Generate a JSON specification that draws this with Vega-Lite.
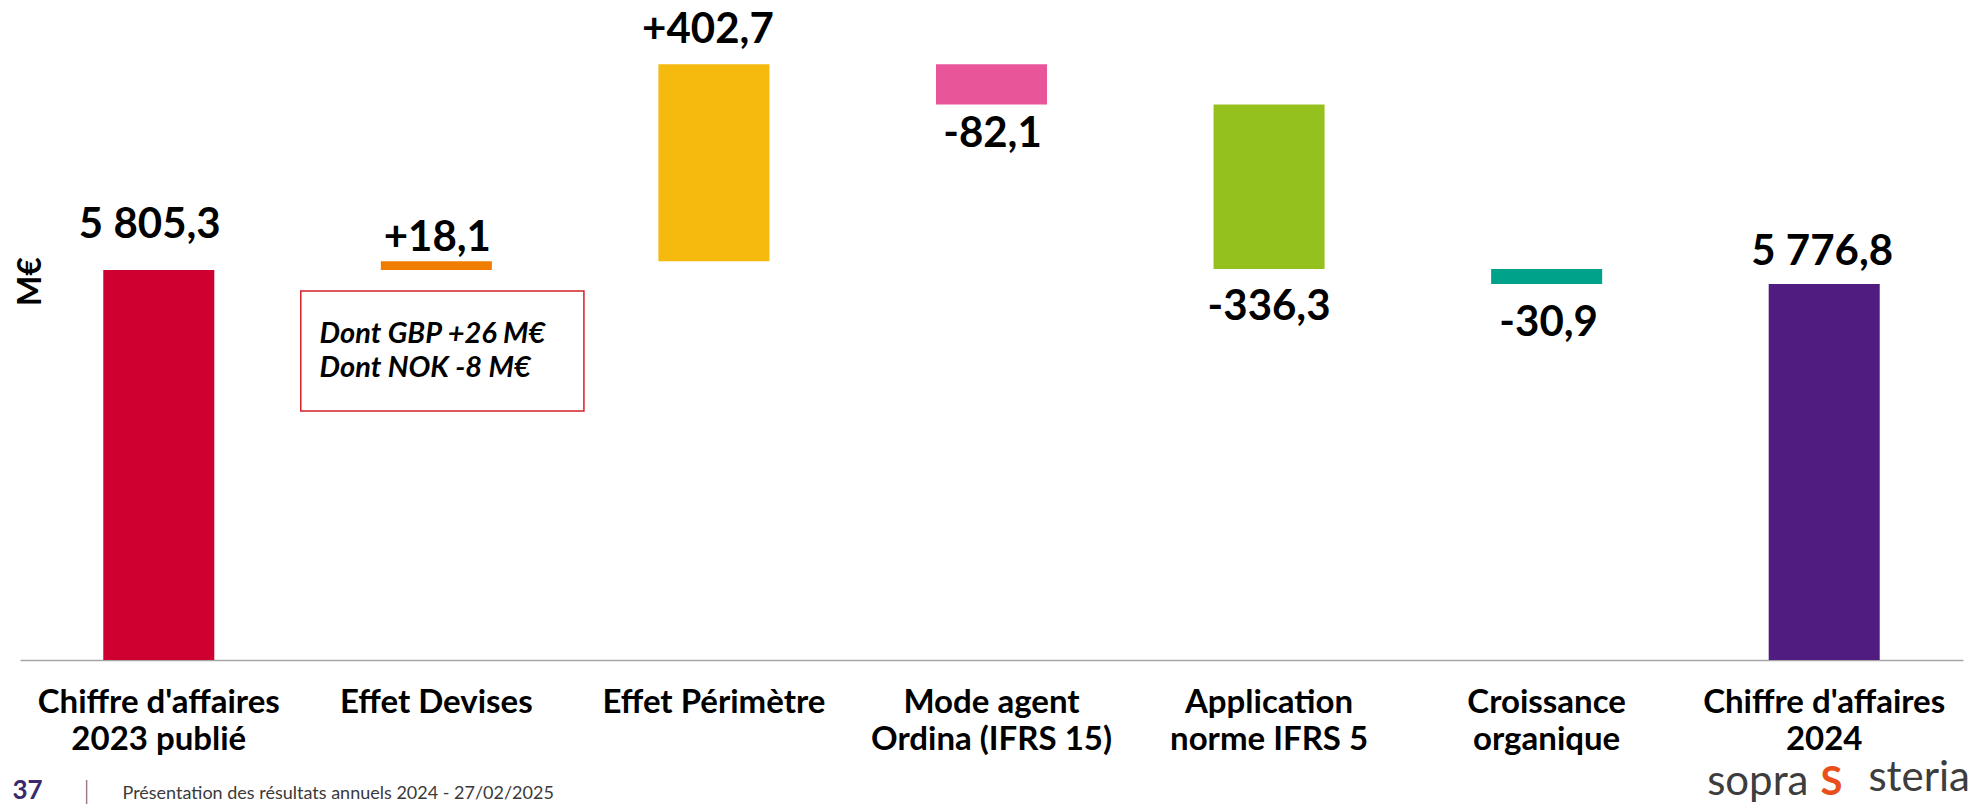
{
  "$schema": "https://vega.github.io/schema/vega-lite/v6.json",
  "width": 1943,
  "height": 660,
  "autosize": {"type": "none"},
  "padding": {"left": 20, "right": 12, "top": 0, "bottom": 144},
  "background": "white",
  "config": {"view": {"stroke": null}, "font": "Lato", "axis": {"grid": false}},
  "title": {
    "text": "steria",
    "orient": "bottom",
    "anchor": "end",
    "frame": "group",
    "font": "Lato",
    "fontSize": 42,
    "fontWeight": "normal",
    "color": "#3d3d3d",
    "baseline": "alphabetic",
    "offset": 0,
    "dx": 7,
    "dy": -12
  },
  "datasets": {
    "main": [
      {"cat": "Chiffre d'affaires\n2023 publié", "start": 0, "end": 5805.3, "label": "5 805,3"},
      {"cat": "Effet Devises", "start": 5805.3, "end": 5823.4, "label": "+18,1"},
      {"cat": "Effet Périmètre", "start": 5823.4, "end": 6226.1, "label": "+402,7"},
      {"cat": "Mode agent\nOrdina (IFRS 15)", "start": 6226.1, "end": 6144.0, "label": "-82,1"},
      {"cat": "Application\nnorme IFRS 5", "start": 6144.0, "end": 5807.7, "label": "-336,3"},
      {"cat": "Croissance\norganique", "start": 5807.7, "end": 5776.8, "label": "-30,9"},
      {"cat": "Chiffre d'affaires\n2024", "start": 0, "end": 5776.8, "label": "5 776,8"}
    ],
    "note_box": [
      {"cat": "Effet Devises", "top": 5762.6, "bottom": 5517.2}
    ],
    "note_text": [
      {"cat": "Effet Devises", "line": "Dont GBP +26 M€", "y": 5656.3},
      {"cat": "Effet Devises", "line": "Dont NOK -8 M€", "y": 5586.7}
    ]
  },
  "resolve": {"scale": {"x": "independent", "y": "independent"}},
  "layer": [
    {
      "data": {"name": "main"},
      "encoding": {
        "x": {
          "field": "cat",
          "type": "nominal",
          "sort": null,
          "scale": {
            "type": "band",
            "domain": ["Chiffre d'affaires\n2023 publié", "Effet Devises", "Effet Périmètre", "Mode agent\nOrdina (IFRS 15)", "Application\nnorme IFRS 5", "Croissance\norganique", "Chiffre d'affaires\n2024"],
            "paddingInner": 0,
            "paddingOuter": 0
          },
          "axis": {
            "orient": "bottom",
            "domain": true,
            "domainColor": "#a6a6a6",
            "domainWidth": 1.5,
            "ticks": false,
            "tickSize": 0,
            "labelAngle": 0,
            "labelExpr": "split(datum.label, '\\n')",
            "labelFont": "Lato",
            "labelFontSize": 33,
            "labelFontWeight": "bold",
            "labelColor": "#000000",
            "labelPadding": 26,
            "labelLineHeight": 37,
            "labelBaseline": "top",
            "labelLimit": 0,
            "labelOverlap": false,
            "labelBound": false,
            "title": "Présentation des résultats annuels 2024 - 27/02/2025",
            "titleX": 102,
            "titleY": 138,
            "titleAlign": "left",
            "titleAnchor": "start",
            "titleBaseline": "alphabetic",
            "titleFont": "Lato",
            "titleFontSize": 18,
            "titleFontWeight": "normal",
            "titleColor": "#3a3a3a"
          }
        }
      },
      "layer": [
        {
          "mark": {"type": "bar", "width": {"band": 0.4}, "clip": true},
          "encoding": {
            "y": {
              "field": "start",
              "type": "quantitative",
              "scale": {"domain": [5008, 6357.7], "nice": false, "zero": false},
              "axis": {
                "orient": "left",
                "domain": false,
                "ticks": false,
                "labels": false,
                "grid": false,
                "title": "M€",
                "titleAngle": -90,
                "titleX": 20,
                "titleY": 281,
                "titleAlign": "center",
                "titleBaseline": "alphabetic",
                "titleFont": "Lato",
                "titleFontSize": 32,
                "titleFontWeight": "bold",
                "titleColor": "#000000"
              }
            },
            "y2": {"field": "end"},
            "color": {
              "field": "cat",
              "type": "nominal",
              "scale": {
                "domain": ["Chiffre d'affaires\n2023 publié", "Effet Devises", "Effet Périmètre", "Mode agent\nOrdina (IFRS 15)", "Application\nnorme IFRS 5", "Croissance\norganique", "Chiffre d'affaires\n2024"],
                "range": ["#CF0030", "#EF7D00", "#F6B90E", "#E85598", "#95C11F", "#00A289", "#511C80"]
              },
              "legend": null
            }
          }
        },
        {
          "transform": [{"filter": "datum.label == '5 805,3'"}],
          "mark": {"type": "text", "baseline": "alphabetic", "dx": -9, "dy": -32, "fontSize": 42, "fontWeight": "bold", "color": "#000000"},
          "encoding": {"y": {"field": "end", "type": "quantitative"}, "text": {"field": "label"}}
        },
        {
          "transform": [{"filter": "datum.label == '+18,1'"}],
          "mark": {"type": "text", "baseline": "alphabetic", "dx": 1, "dy": -10, "fontSize": 42, "fontWeight": "bold", "color": "#000000"},
          "encoding": {"y": {"field": "end", "type": "quantitative"}, "text": {"field": "label"}}
        },
        {
          "transform": [{"filter": "datum.label == '+402,7'"}],
          "mark": {"type": "text", "baseline": "alphabetic", "dx": -6, "dy": -21, "fontSize": 42, "fontWeight": "bold", "color": "#000000"},
          "encoding": {"y": {"field": "end", "type": "quantitative"}, "text": {"field": "label"}}
        },
        {
          "transform": [{"filter": "datum.label == '-82,1'"}],
          "mark": {"type": "text", "baseline": "alphabetic", "dx": 1, "dy": 43, "fontSize": 42, "fontWeight": "bold", "color": "#000000"},
          "encoding": {"y": {"field": "end", "type": "quantitative"}, "text": {"field": "label"}}
        },
        {
          "transform": [{"filter": "datum.label == '-336,3'"}],
          "mark": {"type": "text", "baseline": "alphabetic", "dx": 0, "dy": 51, "fontSize": 42, "fontWeight": "bold", "color": "#000000"},
          "encoding": {"y": {"field": "end", "type": "quantitative"}, "text": {"field": "label"}}
        },
        {
          "transform": [{"filter": "datum.label == '-30,9'"}],
          "mark": {"type": "text", "baseline": "alphabetic", "dx": 2, "dy": 52, "fontSize": 42, "fontWeight": "bold", "color": "#000000"},
          "encoding": {"y": {"field": "end", "type": "quantitative"}, "text": {"field": "label"}}
        },
        {
          "transform": [{"filter": "datum.label == '5 776,8'"}],
          "mark": {"type": "text", "baseline": "alphabetic", "dx": -2, "dy": -19, "fontSize": 42, "fontWeight": "bold", "color": "#000000"},
          "encoding": {"y": {"field": "end", "type": "quantitative"}, "text": {"field": "label"}}
        }
      ]
    },
    {
      "data": {"name": "note_box"},
      "mark": {"type": "bar", "width": {"band": 1.02}, "fill": "#ffffff", "stroke": "#D42027", "strokeWidth": 1.5},
      "encoding": {
        "x": {
          "field": "cat",
          "type": "nominal",
          "sort": null,
          "scale": {
            "type": "band",
            "domain": ["Chiffre d'affaires\n2023 publié", "Effet Devises", "Effet Périmètre", "Mode agent\nOrdina (IFRS 15)", "Application\nnorme IFRS 5", "Croissance\norganique", "Chiffre d'affaires\n2024"],
            "paddingInner": 0,
            "paddingOuter": 0
          },
          "axis": {
            "orient": "bottom",
            "domain": false,
            "ticks": false,
            "labels": false,
            "grid": false,
            "title": "37",
            "titleX": -8,
            "titleY": 138,
            "titleAlign": "left",
            "titleAnchor": "start",
            "titleBaseline": "alphabetic",
            "titleFont": "Lato",
            "titleFontSize": 26,
            "titleFontWeight": "bold",
            "titleColor": "#3B2A6B"
          }
        },
        "xOffset": {"value": 6},
        "y": {
          "field": "top",
          "type": "quantitative",
          "scale": {"domain": [5008, 6357.7], "nice": false, "zero": false},
          "axis": {
            "orient": "right",
            "domain": false,
            "ticks": false,
            "labels": false,
            "grid": false,
            "title": "S",
            "titleAngle": 0,
            "titleX": -132,
            "titleY": 794,
            "titleAlign": "center",
            "titleBaseline": "alphabetic",
            "titleFont": "Lato",
            "titleFontSize": 40,
            "titleFontWeight": "bold",
            "titleColor": "#E94E1B"
          }
        },
        "y2": {"field": "bottom"}
      }
    },
    {
      "data": {"name": "note_text"},
      "mark": {"type": "text", "align": "left", "baseline": "alphabetic", "dx": 22, "fontSize": 29, "fontStyle": "italic", "fontWeight": "bold", "color": "#000000"},
      "encoding": {
        "x": {
          "field": "cat",
          "type": "nominal",
          "sort": null,
          "bandPosition": 0,
          "scale": {
            "type": "band",
            "domain": ["Chiffre d'affaires\n2023 publié", "Effet Devises", "Effet Périmètre", "Mode agent\nOrdina (IFRS 15)", "Application\nnorme IFRS 5", "Croissance\norganique", "Chiffre d'affaires\n2024"],
            "paddingInner": 0,
            "paddingOuter": 0
          },
          "axis": {
            "orient": "bottom",
            "domain": false,
            "ticks": false,
            "labels": false,
            "grid": false,
            "title": "|",
            "titleX": 66,
            "titleY": 138,
            "titleAlign": "center",
            "titleBaseline": "alphabetic",
            "titleFont": "Lato",
            "titleFontSize": 26,
            "titleFontWeight": 300,
            "titleColor": "#555555"
          }
        },
        "y": {
          "field": "y",
          "type": "quantitative",
          "scale": {"domain": [5008, 6357.7], "nice": false, "zero": false},
          "axis": {
            "orient": "right",
            "domain": false,
            "ticks": false,
            "labels": false,
            "grid": false,
            "title": "sopra",
            "titleAngle": 0,
            "titleX": -155,
            "titleY": 794,
            "titleAlign": "right",
            "titleBaseline": "alphabetic",
            "titleFont": "Lato",
            "titleFontSize": 42,
            "titleFontWeight": "normal",
            "titleColor": "#3d3d3d"
          }
        },
        "text": {"field": "line"}
      }
    }
  ]
}
